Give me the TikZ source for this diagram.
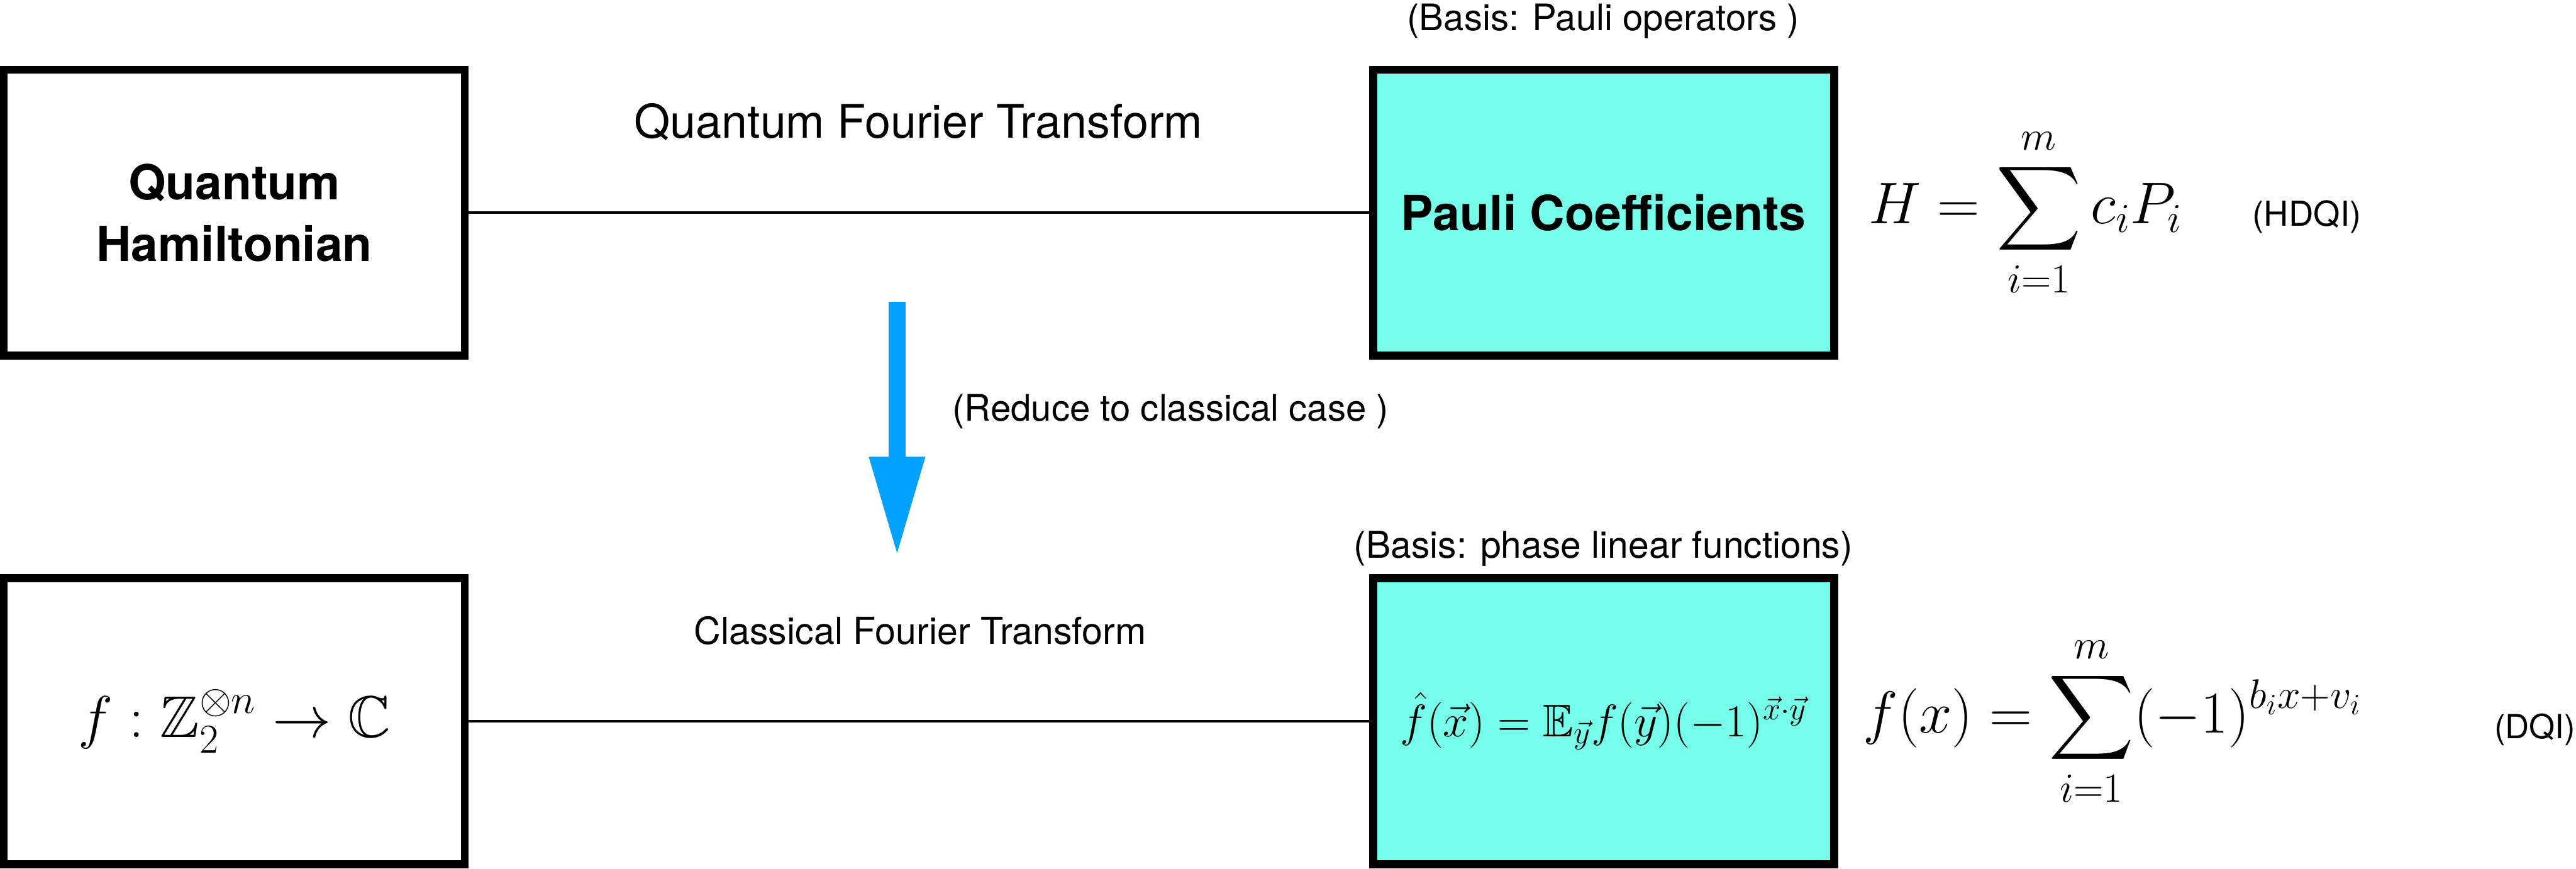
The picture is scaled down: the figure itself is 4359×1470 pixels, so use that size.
\RequirePackage{fix-cm}
\documentclass[tikz,border=0pt]{standalone}
\usepackage{amsmath,amssymb}
\usepackage[no-math]{fontspec}
\setmainfont{TeX Gyre Heros}
% scalable blackboard-bold so large math sizes are not substituted
\DeclareFontFamily{U}{msb}{}
\DeclareFontShape{U}{msb}{m}{n}{<-6> msbm5 <6-8> msbm7 <8-> msbm10}{}
\usetikzlibrary{arrows.meta}
\definecolor{coeffill}{RGB}{118,253,233}
\definecolor{reduceblue}{RGB}{0,162,255}
\newcommand{\fsz}[1]{\fontsize{#1}{1.2\dimexpr#1\relax}\selectfont}

\begin{document}
\begin{tikzpicture}[x=0.01cm,y=-0.01cm,
  box/.style={draw, line width=0.135cm, minimum width=7.795cm,
              minimum height=4.835cm, inner sep=0pt, align=center},
  coef/.style={box, fill=coeffill},
  link/.style={line width=0.045cm},
  lbl/.style={inner sep=0pt, anchor=base},
  lblw/.style={inner sep=0pt, anchor=base west},
  bigmath/.style={font=\fsz{28.3pt}}
]
\useasboundingbox (0,0) rectangle (4359,1470);

% quantum row
\node[box, font=\fontsize{23.2pt}{29.6pt}\selectfont\bfseries] (ham) at (396.5,360)
  {Quantum\\Hamiltonian};
\node[coef, font=\fontsize{23.3pt}{28pt}\selectfont\bfseries] (pc) at (2713.5,360)
  {Pauli Coefficients};
\draw[link] (ham) -- (pc);
\node[lbl, font=\fsz{22.3pt}] (qft) at (1554,234) {Quantum Fourier Transform};
\node[lbl, font=\fsz{17.6pt}] (pbasis) at (2713,52) {(Basis: Pauli operators )};
\node[lblw, bigmath] (hsum) at (3162,378) {$\displaystyle H=\sum_{i=1}^{m} c_iP_i$};
\node[lblw, font=\fsz{16.5pt}] (hdqi) at (3811,383) {(HDQI)};

% reduction arrow
\coordinate (rtop) at (1518,511);
\coordinate (rtip) at (1518,943);
\draw[reduceblue, line width=0.28cm, -{Triangle[length=1.70cm,width=0.87cm]}] (rtop) -- (rtip);
\node[lblw, font=\fsz{17.6pt}] (reduce) at (1611,713) {(Reduce to classical case )};

% classical row
\node[box, bigmath] (fz) at (396.5,1220.5) {$f:\mathbb{Z}_2^{\otimes n}\to\mathbb{C}$};
\node[coef, font=\fsz{22pt}] (fh) at (2713.5,1220.5)
  {$\hat f(\vec x)=\mathbb{E}_{\vec y}f(\vec y)(-1)^{\vec x\cdot\vec y}$};
\draw[link] (fz) -- (fh);
\node[lbl, font=\fsz{17.9pt}] (cft) at (1557,1090) {Classical Fourier Transform};
\node[lbl, font=\fsz{17.8pt}] (cbasis) at (2713,945) {(Basis: phase linear functions)};
\node[lblw, font=\fsz{28.5pt}] (fsum) at (3152,1240) {$\displaystyle f(x)=\sum_{i=1}^{m}(-1)^{b_ix+v_i}$};
\node[lblw, font=\fsz{16pt}] (dqi) at (4220,1250) {(DQI)};
\end{tikzpicture}
\end{document}
